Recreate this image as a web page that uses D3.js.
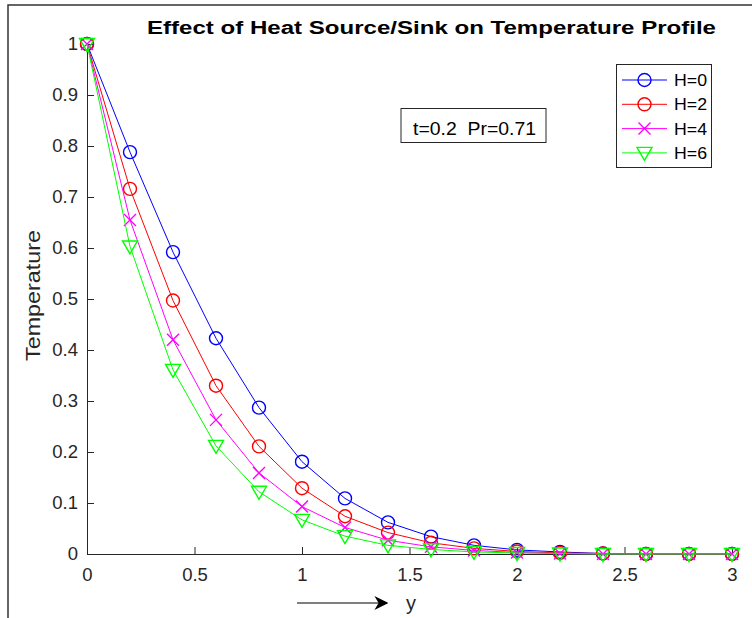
<!DOCTYPE html>
<html>
<head>
<meta charset="utf-8">
<script src="https://cdn.jsdelivr.net/npm/d3@7/dist/d3.min.js"></script>
<style>
  body { margin: 0; background: #fff; }
  svg { display: block; font-family: Arial, "Liberation Sans", sans-serif; }
</style>
</head>
<body>
<svg id="chart" width="752" height="618"></svg>
<script>
const yPos = [0, 0.2, 0.4, 0.6, 0.8, 1.0, 1.2, 1.4, 1.6, 1.8, 2.0, 2.2, 2.4, 2.6, 2.8, 3.0]
const tempH0 = [1, 0.788, 0.592, 0.423, 0.287, 0.181, 0.109, 0.062, 0.034, 0.017, 0.008, 0.004, 0.001, 0, 0, 0]
const tempH2 = [1, 0.716, 0.497, 0.330, 0.211, 0.129, 0.074, 0.042, 0.022, 0.011, 0.005, 0.002, 0.001, 0, 0, 0]
const tempH4 = [1, 0.655, 0.420, 0.263, 0.159, 0.093, 0.052, 0.027, 0.014, 0.007, 0.003, 0.001, 0, 0, 0, 0]
const tempH6 = [1, 0.603, 0.361, 0.212, 0.122, 0.067, 0.035, 0.017, 0.009, 0.004, 0.002, 0.001, 0, 0, 0, 0]
const seriesNames = ['H=0', 'H=2', 'H=4', 'H=6']
const xTicks = [0, 0.5, 1, 1.5, 2, 2.5, 3]
const yTicks = [0, 0.1, 0.2, 0.3, 0.4, 0.5, 0.6, 0.7, 0.8, 0.9, 1]

const series = [
  {name: seriesNames[0], values: tempH0, color: '#0000ff', marker: 'circle'},
  {name: seriesNames[1], values: tempH2, color: '#ff0000', marker: 'circle'},
  {name: seriesNames[2], values: tempH4, color: '#ff00ff', marker: 'cross'},
  {name: seriesNames[3], values: tempH6, color: '#00ff00', marker: 'triangle'}
]

const svg = d3.select('#chart')

// figure frame (only top and left edges show)
svg.append('path')
  .attr('d', 'M8,618 V5 H752')
  .attr('fill', 'none')
  .attr('stroke', '#333')
  .attr('stroke-width', 1.5)

const x = d3.scaleLinear().domain([0, 3]).range([87, 732])
const y = d3.scaleLinear().domain([0, 1]).range([554, 44])

const axisFont = '18.5px'

// x axis
const gx = svg.append('g')
  .attr('transform', `translate(0,${y(0)})`)
  .call(d3.axisBottom(x).tickValues(xTicks).tickSizeInner(-7).tickSizeOuter(0)
    .tickFormat(d3.format('~g')))
gx.select('.domain').attr('stroke', '#262626')
gx.selectAll('.tick line').attr('stroke', '#262626')
gx.selectAll('.tick text')
  .attr('y', 14)
  .attr('dy', '0.71em')
  .attr('fill', '#262626')
  .style('font-size', axisFont)
  .style('font-family', 'Arial, "Liberation Sans", sans-serif')

// y axis
const gy = svg.append('g')
  .attr('transform', `translate(${x(0)},0)`)
  .call(d3.axisLeft(y).tickValues(yTicks).tickSizeInner(-7).tickSizeOuter(0)
    .tickFormat(d3.format('~g')))
gy.select('.domain').attr('stroke', '#262626')
gy.selectAll('.tick line').attr('stroke', '#262626')
gy.selectAll('.tick text')
  .attr('x', -9)
  .attr('fill', '#262626')
  .style('font-size', axisFont)
  .style('font-family', 'Arial, "Liberation Sans", sans-serif')

// title
svg.append('text')
  .attr('x', 147)
  .attr('y', 34)
  .attr('textLength', 569)
  .attr('lengthAdjust', 'spacingAndGlyphs')
  .style('font-size', '18px')
  .style('font-weight', 'bold')
  .text('Effect of Heat Source/Sink on Temperature Profile')

// y label
svg.append('text')
  .attr('transform', 'translate(40,361) rotate(-90)')
  .attr('textLength', 131)
  .attr('lengthAdjust', 'spacingAndGlyphs')
  .attr('fill', '#262626')
  .style('font-size', '21px')
  .text('Temperature')

// x label with arrow
svg.append('defs').append('marker')
  .attr('id', 'arrowhead')
  .attr('viewBox', '0 0 10 10')
  .attr('refX', 9).attr('refY', 5)
  .attr('markerWidth', 14).attr('markerHeight', 14)
  .attr('markerUnits', 'userSpaceOnUse')
  .attr('orient', 'auto')
  .append('path')
  .attr('d', 'M0,0 L10,5 L0,10 L3,5 Z')
  .attr('fill', '#000')
svg.append('line')
  .attr('x1', 297).attr('y1', 603)
  .attr('x2', 387).attr('y2', 603)
  .attr('stroke', '#000')
  .attr('stroke-width', 1.2)
  .attr('marker-end', 'url(#arrowhead)')
svg.append('text')
  .attr('x', 411)
  .attr('y', 610)
  .attr('text-anchor', 'middle')
  .attr('fill', '#262626')
  .style('font-size', '20px')
  .text('y')

// marker shape helper
function drawMarker (g, type, color) {
  if (type === 'circle') {
    g.append('circle').attr('r', 6.5)
      .attr('fill', 'none').attr('stroke', color).attr('stroke-width', 1.4)
  } else if (type === 'cross') {
    g.append('path').attr('d', 'M-6,-6 L6,6 M-6,6 L6,-6')
      .attr('fill', 'none').attr('stroke', color).attr('stroke-width', 1.4)
  } else {
    g.append('path').attr('d', 'M-7.5,-5.5 L7.5,-5.5 L0,7.5 Z')
      .attr('fill', 'none').attr('stroke', color).attr('stroke-width', 1.4)
  }
}

const line = d3.line()
  .x((d, i) => x(yPos[i]))
  .y(d => y(d))

series.forEach(s => {
  const g = svg.append('g')
  g.append('path')
    .datum(s.values)
    .attr('d', line)
    .attr('fill', 'none')
    .attr('stroke', s.color)
    .attr('stroke-width', 1)
  g.selectAll('g.mk')
    .data(s.values)
    .join('g')
    .attr('class', 'mk')
    .attr('transform', (d, i) => `translate(${x(yPos[i])},${y(d)})`)
    .each(function () { drawMarker(d3.select(this), s.marker, s.color) })
})

// legend
const legend = svg.append('g')
legend.append('rect')
  .attr('x', 616.5).attr('y', 64.5)
  .attr('width', 95).attr('height', 103)
  .attr('fill', '#fff')
  .attr('stroke', '#262626')
  .attr('stroke-width', 1)
series.forEach((s, i) => {
  const ly = 80 + i * 24.3
  const item = legend.append('g')
  item.append('line')
    .attr('x1', 622).attr('x2', 667)
    .attr('y1', ly).attr('y2', ly)
    .attr('stroke', s.color).attr('stroke-width', 1)
  const mk = item.append('g').attr('transform', `translate(644.5,${ly})`)
  drawMarker(mk, s.marker, s.color)
  item.append('text')
    .attr('x', 674).attr('y', ly)
    .attr('dy', '0.36em')
    .attr('textLength', 33)
    .attr('lengthAdjust', 'spacingAndGlyphs')
    .style('font-size', '16.5px')
    .text(s.name)
})

// annotation box
svg.append('rect')
  .attr('x', 401).attr('y', 108.5)
  .attr('width', 145).attr('height', 34)
  .attr('fill', '#fff')
  .attr('stroke', '#262626')
  .attr('stroke-width', 1)
svg.append('text')
  .attr('x', 413).attr('y', 135)
  .attr('textLength', 123)
  .attr('lengthAdjust', 'spacingAndGlyphs')
  .style('font-size', '17.5px')
  .style('white-space', 'pre')
  .text('t=0.2  Pr=0.71')
</script>
</body>
</html>
